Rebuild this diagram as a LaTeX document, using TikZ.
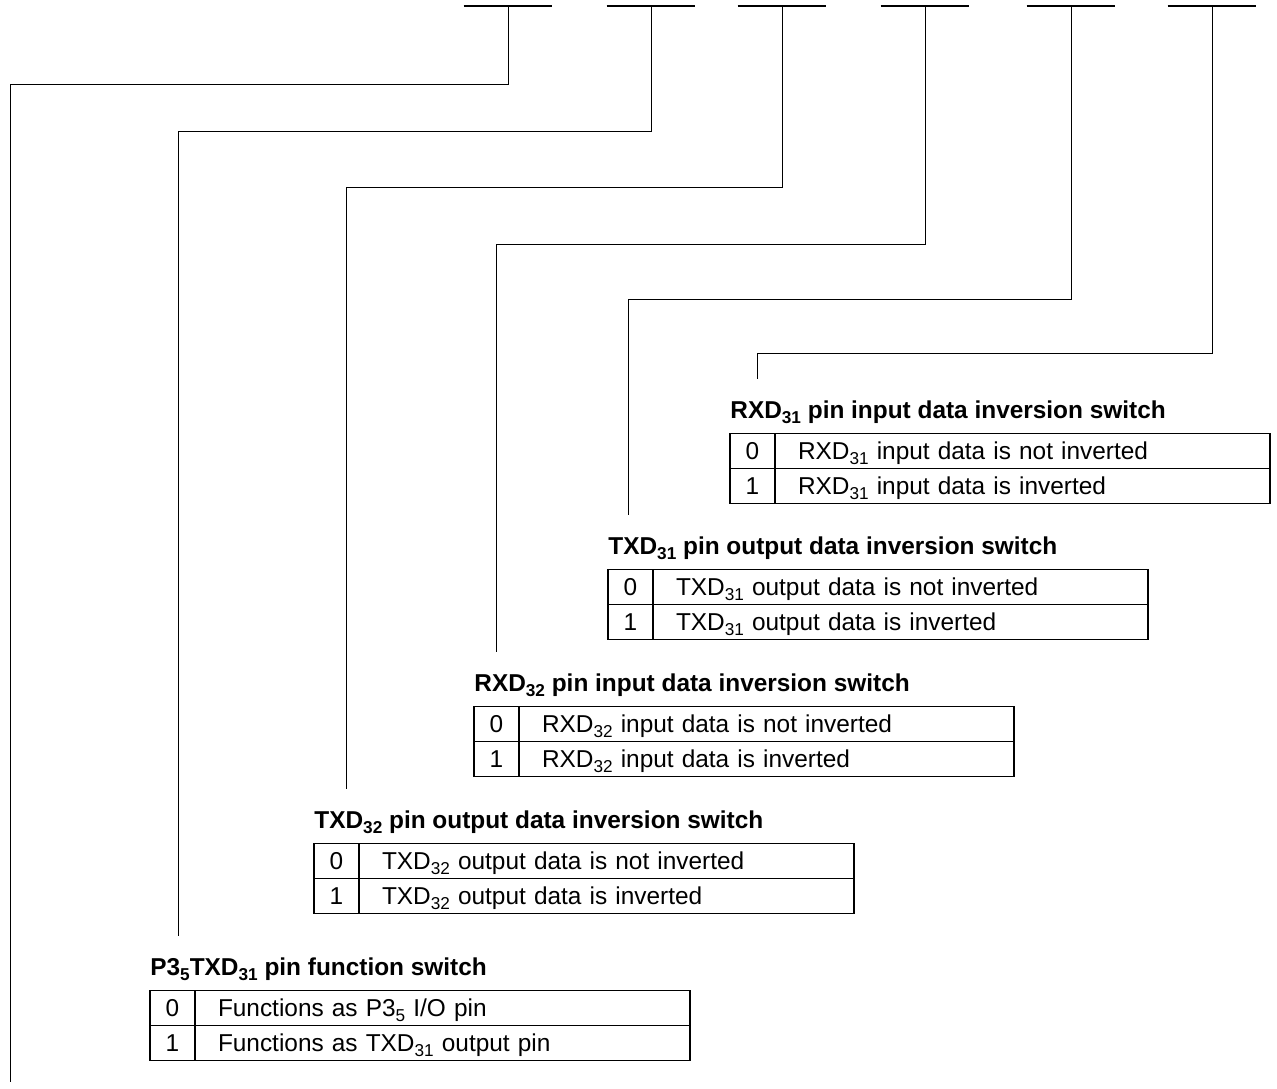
\documentclass[tikz,border=0pt]{standalone}
\usepackage{fontspec}
\setmainfont{Liberation Sans}
\usetikzlibrary{positioning}

\newcommand{\lowsub}[1]{\raisebox{-0.38ex}{\fontsize{8.6}{9}\selectfont #1}}

\tikzset{
  bitbar/.style={minimum width=44pt, minimum height=0pt, inner sep=0pt},
  conn/.style={line width=0.5pt, shorten >=10.5pt},
  swtitle/.style={anchor=base west, inner sep=0pt, font=\fontsize{12.2}{14}\selectfont\bfseries},
  bitcell/.style={draw, line width=0.6pt, outer sep=0pt, inner sep=0pt, minimum width=22.5pt,
    minimum height=17.5pt, text height=11pt, text depth=2.5pt, font=\fontsize{12.2}{14}\selectfont},
  desccell/.style={draw, line width=0.6pt, outer sep=0pt, inner ysep=0pt, inner xsep=11.5pt,
    text width=224.5pt, align=left, minimum height=17.5pt, text height=11pt, text depth=2.5pt,
    font=\fontsize{12.2}{14}\selectfont}
}

\begin{document}
\begin{tikzpicture}[x=0.5pt, y=-0.5pt]
\useasboundingbox (0,0) rectangle (1277,1088);
%
% --- Bit bars along the top (1--6) ---
\node[bitbar] (b1) at (508,6) {};
\node[bitbar] (b2) at (651,6) {};
\node[bitbar] (b3) at (782,6) {};
\node[bitbar] (b4) at (925,6) {};
\node[bitbar] (b5) at (1071,6) {};
\node[bitbar] (b6) at (1212,6) {};
\foreach \n in {1,...,6}
  \draw[line width=0.7pt] (b\n.west) -- (b\n.east);
%
% --- Corners of the leader lines ---
\coordinate (k1) at (10,84);
\coordinate (k2) at (178,131);
\coordinate (k3) at (346,187);
\coordinate (k4) at (496,244);
\coordinate (k5) at (628,299);
\coordinate (k6) at (757,353);
\coordinate (e1) at (10,1082);
%
% --- RXD31 table (bit 6) ---
\node[swtitle] (s6) at (730,418.5) {RXD\lowsub{31} pin input data inversion switch};
\node[bitcell, anchor=north west] (c6a) at (730,433.5) {0};
\node[desccell, right=0pt of c6a] (c6b) {RXD\lowsub{31} input data is not inverted};
\node[bitcell, below=0pt of c6a] (c6c) {1};
\node[desccell, right=0pt of c6c] (c6d) {RXD\lowsub{31} input data is inverted};
%
% --- TXD31 table (bit 5) ---
\node[swtitle] (s5) at (608,554.5) {TXD\lowsub{31} pin output data inversion switch};
\node[bitcell, anchor=north west] (c5a) at (608,569.5) {0};
\node[desccell, right=0pt of c5a] (c5b) {TXD\lowsub{31} output data is not inverted};
\node[bitcell, below=0pt of c5a] (c5c) {1};
\node[desccell, right=0pt of c5c] (c5d) {TXD\lowsub{31} output data is inverted};
%
% --- RXD32 table (bit 4) ---
\node[swtitle] (s4) at (474,691.5) {RXD\lowsub{32} pin input data inversion switch};
\node[bitcell, anchor=north west] (c4a) at (474,706.5) {0};
\node[desccell, right=0pt of c4a] (c4b) {RXD\lowsub{32} input data is not inverted};
\node[bitcell, below=0pt of c4a] (c4c) {1};
\node[desccell, right=0pt of c4c] (c4d) {RXD\lowsub{32} input data is inverted};
%
% --- TXD32 table (bit 3) ---
\node[swtitle] (s3) at (314,828.5) {TXD\lowsub{32} pin output data inversion switch};
\node[bitcell, anchor=north west] (c3a) at (314,843.5) {0};
\node[desccell, right=0pt of c3a] (c3b) {TXD\lowsub{32} output data is not inverted};
\node[bitcell, below=0pt of c3a] (c3c) {1};
\node[desccell, right=0pt of c3c] (c3d) {TXD\lowsub{32} output data is inverted};
%
% --- P35/TXD31 table (bit 2) ---
\node[swtitle] (s2) at (150,975.5) {P3\lowsub{5}TXD\lowsub{31} pin function switch};
\node[bitcell, anchor=north west] (c2a) at (150,990.5) {0};
\node[desccell, right=0pt of c2a] (c2b) {Functions as P3\lowsub{5} I/O pin};
\node[bitcell, below=0pt of c2a] (c2c) {1};
\node[desccell, right=0pt of c2c] (c2d) {Functions as TXD\lowsub{31} output pin};
%
% --- Leader lines ---
\draw[line width=0.5pt] (b1.center) |- (k1) -- (e1);
\draw[conn] (b2.center) |- (k2) -- (k2 |- s2.north);
\draw[conn] (b3.center) |- (k3) -- (k3 |- s3.north);
\draw[conn] (b4.center) |- (k4) -- (k4 |- s4.north);
\draw[conn] (b5.center) |- (k5) -- (k5 |- s5.north);
\draw[conn] (b6.center) |- (k6) -- (k6 |- s6.north);
%
\end{tikzpicture}
\end{document}
